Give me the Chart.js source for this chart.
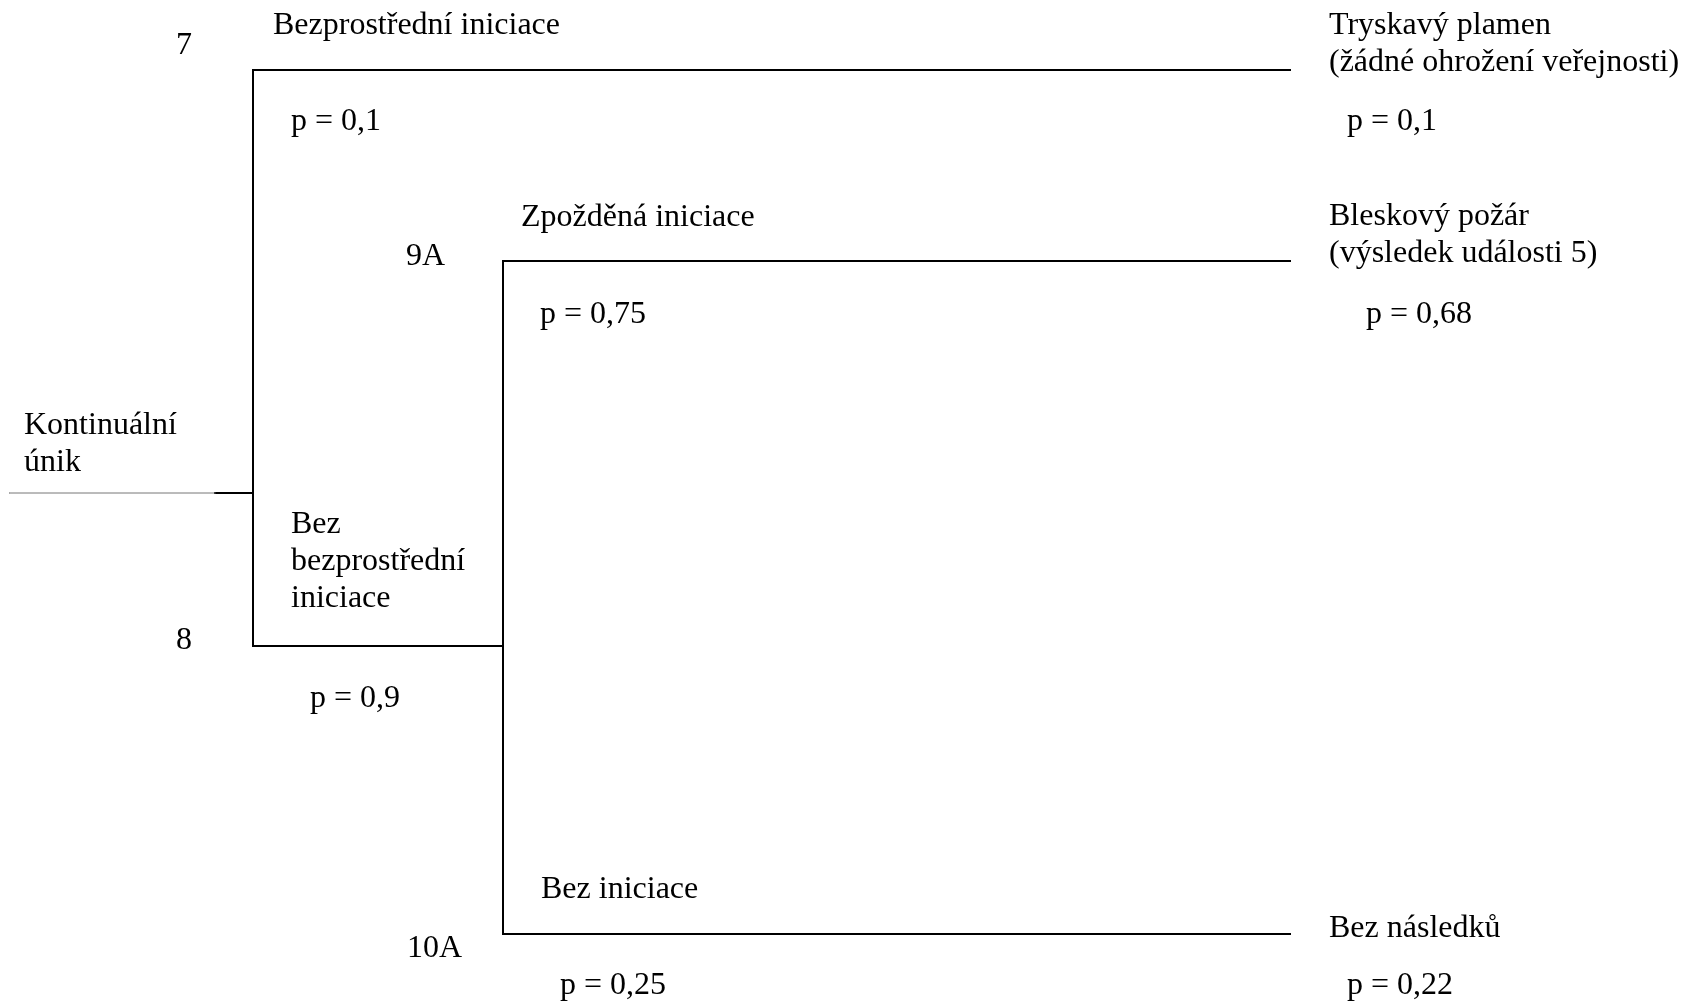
<!DOCTYPE html>
<html>
<head>
<meta charset="utf-8">
<script src="https://cdn.jsdelivr.net/npm/chart.js@4/dist/chart.umd.min.js"></script>
<style>
  html, body { margin: 0; padding: 0; background: #fff; }
  #strom { display: block; }
</style>
</head>
<body>
<canvas id="strom" width="1685" height="1003"></canvas>
<script>
// data stromu udalosti
const pocatek = ['Kontinuální', 'únik'];
const vetve1 = [['Bezprostřední iniciace'], ['Bez', 'bezprostřední', 'iniciace']];
const p1 = [0.1, 0.9];
const cisla1 = ['7', '8'];
const vetve2 = [['Zpožděná iniciace'], ['Bez iniciace']];
const p2 = [0.75, 0.25];
const cisla2 = ['9A', '10A'];
const vysledky = [['Tryskavý plamen', '(žádné ohrožení veřejnosti)'], ['Bleskový požár', '(výsledek události 5)'], ['Bez následků']];
const pVysledky = [0.1, 0.68, 0.22];

// rozlozeni (jednotky os)
const sloupce = {start: 9, zlom: 215, uzel1: 253, uzel2: 503, konec: 1290};
const radky = {horni: 70, stred: 261, vstup: 493, uzel8: 646, dolni: 934};

function pText(v){
    return 'p = ' + String(v).replace('.', ',');
}

function usecka(x1, y1, x2, y2, barva, sirka){
    return {
        data: [{x: x1, y: y1}, {x: x2, y: y2}],
        showLine: true,
        borderColor: barva,
        borderWidth: sirka,
        pointRadius: 0,
        borderCapStyle: 'square',
        fill: false
    };
}

let datasets = [
    usecka(sloupce.start, radky.vstup, sloupce.zlom, radky.vstup, '#777', 1),
    usecka(sloupce.zlom, radky.vstup, sloupce.uzel1, radky.vstup, '#000', 2),
    usecka(sloupce.uzel1, radky.horni, sloupce.uzel1, radky.uzel8, '#000', 2),
    usecka(sloupce.uzel1, radky.horni, sloupce.konec, radky.horni, '#000', 2),
    usecka(sloupce.uzel1, radky.uzel8, sloupce.uzel2, radky.uzel8, '#000', 2),
    usecka(sloupce.uzel2, radky.stred, sloupce.uzel2, radky.dolni, '#000', 2),
    usecka(sloupce.uzel2, radky.stred, sloupce.konec, radky.stred, '#000', 2),
    usecka(sloupce.uzel2, radky.dolni, sloupce.konec, radky.dolni, '#000', 2)
];

// popisky: [radky textu, x, y uctari prvni radky, rozestup]
let popisky = [
    [pocatek, 24, 434, 37],
    [[cisla1[0]], 176, 54, 0],
    [vetve1[0], 273, 34, 0],
    [[pText(p1[0])], 291, 130, 0],
    [vetve1[1], 291, 533, 37],
    [[cisla1[1]], 176, 649, 0],
    [[pText(p1[1])], 310, 707, 0],
    [vetve2[0], 521, 226, 0],
    [[cisla2[0]], 406, 265, 0],
    [[pText(p2[0])], 540, 323, 0],
    [vetve2[1], 541, 898, 0],
    [[cisla2[1]], 407, 957, 0],
    [[pText(p2[1])], 560, 994, 0],
    [vysledky[0], 1329, 34, 37],
    [[pText(pVysledky[0])], 1347, 130, 0],
    [vysledky[1], 1329, 225, 37],
    [[pText(pVysledky[1])], 1366, 323, 0],
    [vysledky[2], 1329, 937, 0],
    [[pText(pVysledky[2])], 1347, 994, 0]
];

const textPlugin = {
    id: 'textPlugin',
    afterDatasetsDraw(chart){
        const ctx = chart.ctx;
        const sx = chart.scales.x, sy = chart.scales.y;
        ctx.save();
        ctx.fillStyle = '#000';
        ctx.font = '32px "Liberation Serif", "Times New Roman", serif';
        ctx.textAlign = 'left';
        ctx.textBaseline = 'alphabetic';
        popisky.forEach(p => {
            p[0].forEach((t, i) => {
                ctx.fillText(t, sx.getPixelForValue(p[1]), sy.getPixelForValue(p[2] + i * p[3]));
            });
        });
        ctx.restore();
    }
};

let canvas = document.getElementById('strom').getContext('2d');
let graf = new Chart(canvas, {
    type: 'scatter',
    data: {datasets: datasets},
    options: {
        responsive: false,
        animation: false,
        layout: {padding: 0},
        plugins: {legend: {display: false}, tooltip: {enabled: false}},
        scales: {
            x: {type: 'linear', min: 0, max: 1685, display: false},
            y: {type: 'linear', min: 0, max: 1003, reverse: true, display: false}
        },
        elements: {line: {tension: 0}}
    },
    plugins: [textPlugin]
});
</script>
</body>
</html>
